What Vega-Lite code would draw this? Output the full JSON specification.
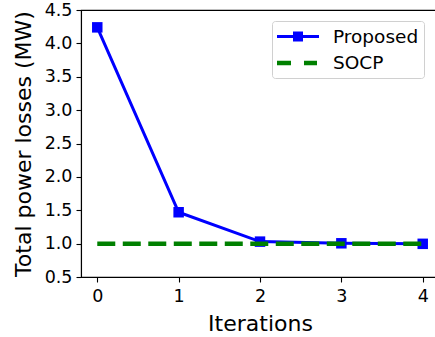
{
  "$schema": "https://vega.github.io/schema/vega-lite/v6.json",
  "width": 358,
  "height": 267,
  "autosize": {"type": "none"},
  "padding": {"left": 81, "top": 10, "right": 0, "bottom": 60},
  "background": "white",
  "config": {
    "font": "DejaVu Sans",
    "view": {"stroke": "black", "strokeWidth": 1.1},
    "axis": {
      "grid": false,
      "domainColor": "black",
      "domainWidth": 1.1,
      "tickColor": "black",
      "tickWidth": 1.1,
      "tickSize": 5,
      "labelFont": "DejaVu Sans",
      "labelFontSize": 17.5,
      "labelColor": "black",
      "labelPadding": 4,
      "titleFont": "DejaVu Sans",
      "titleFontSize": 22,
      "titleFontWeight": "normal",
      "titleColor": "black"
    }
  },
  "datasets": {
    "losses": [
      {"iteration": 0, "loss": 4.24, "series": "Proposed"},
      {"iteration": 1, "loss": 1.47, "series": "Proposed"},
      {"iteration": 2, "loss": 1.03, "series": "Proposed"},
      {"iteration": 3, "loss": 1.005, "series": "Proposed"},
      {"iteration": 4, "loss": 0.997, "series": "Proposed"},
      {"iteration": 0, "loss": 1.0, "series": "SOCP"},
      {"iteration": 4, "loss": 1.0, "series": "SOCP"}
    ]
  },
  "data": {"name": "losses"},
  "encoding": {
    "x": {
      "field": "iteration",
      "type": "quantitative",
      "scale": {"domain": [-0.2, 4.2], "nice": false, "zero": false},
      "axis": {"values": [0, 1, 2, 3, 4], "format": "d", "title": "Iterations", "titlePadding": 9, "labelPadding": 5, "labelFlush": false}
    },
    "y": {
      "field": "loss",
      "type": "quantitative",
      "scale": {"domain": [0.5, 4.5], "nice": false, "zero": false},
      "axis": {"values": [0.5, 1.0, 1.5, 2.0, 2.5, 3.0, 3.5, 4.0, 4.5], "format": ".1f", "title": "Total power losses (MW)", "titlePadding": 9, "labelFlush": false}
    },
    "color": {
      "field": "series",
      "type": "nominal",
      "scale": {"domain": ["Proposed", "SOCP"], "range": ["#0000ff", "#008000"]},
      "legend": {
        "title": null,
        "orient": "none",
        "legendX": 191,
        "legendY": 11,
        "padding": 5,
        "labelFont": "DejaVu Sans",
        "labelFontSize": 18.5,
        "labelColor": "black",
        "labelOffset": 35,
        "rowPadding": 6.5,
        "symbolSize": 441,
        "symbolStrokeWidth": 0,
        "strokeColor": "#d0d0d0",
        "fillColor": "white",
        "cornerRadius": 3,
        "encode": {
          "symbols": {
            "update": {
              "shape": {"signal": "datum.value === 'Proposed' ? 'M-1,-0.143H3V0.143H-1Z M0.524,-0.476H1.476V0.476H0.524Z' : 'M-1,-0.214H0.333V0.214H-1Z M1.571,-0.214H2.81V0.214H1.571Z'"},
              "size": {"value": 441},
              "fill": {"signal": "datum.value === 'Proposed' ? '#0000ff' : '#008000'"},
              "fillOpacity": {"value": 1},
              "opacity": {"value": 1},
              "stroke": {"value": "transparent"},
              "strokeWidth": {"value": 0},
              "strokeDash": {"value": []}
            }
          }
        }
      }
    }
  },
  "layer": [
    {
      "transform": [{"filter": "datum.series === 'Proposed'"}],
      "mark": {"type": "line", "strokeWidth": 3}
    },
    {
      "transform": [{"filter": "datum.series === 'Proposed'"}],
      "mark": {"type": "point", "shape": "square", "filled": true, "size": 110, "opacity": 1}
    },
    {
      "transform": [{"filter": "datum.series === 'SOCP'"}],
      "mark": {"type": "line", "strokeWidth": 4.5, "strokeDash": [18, 7.5], "strokeCap": "butt"}
    }
  ]
}
